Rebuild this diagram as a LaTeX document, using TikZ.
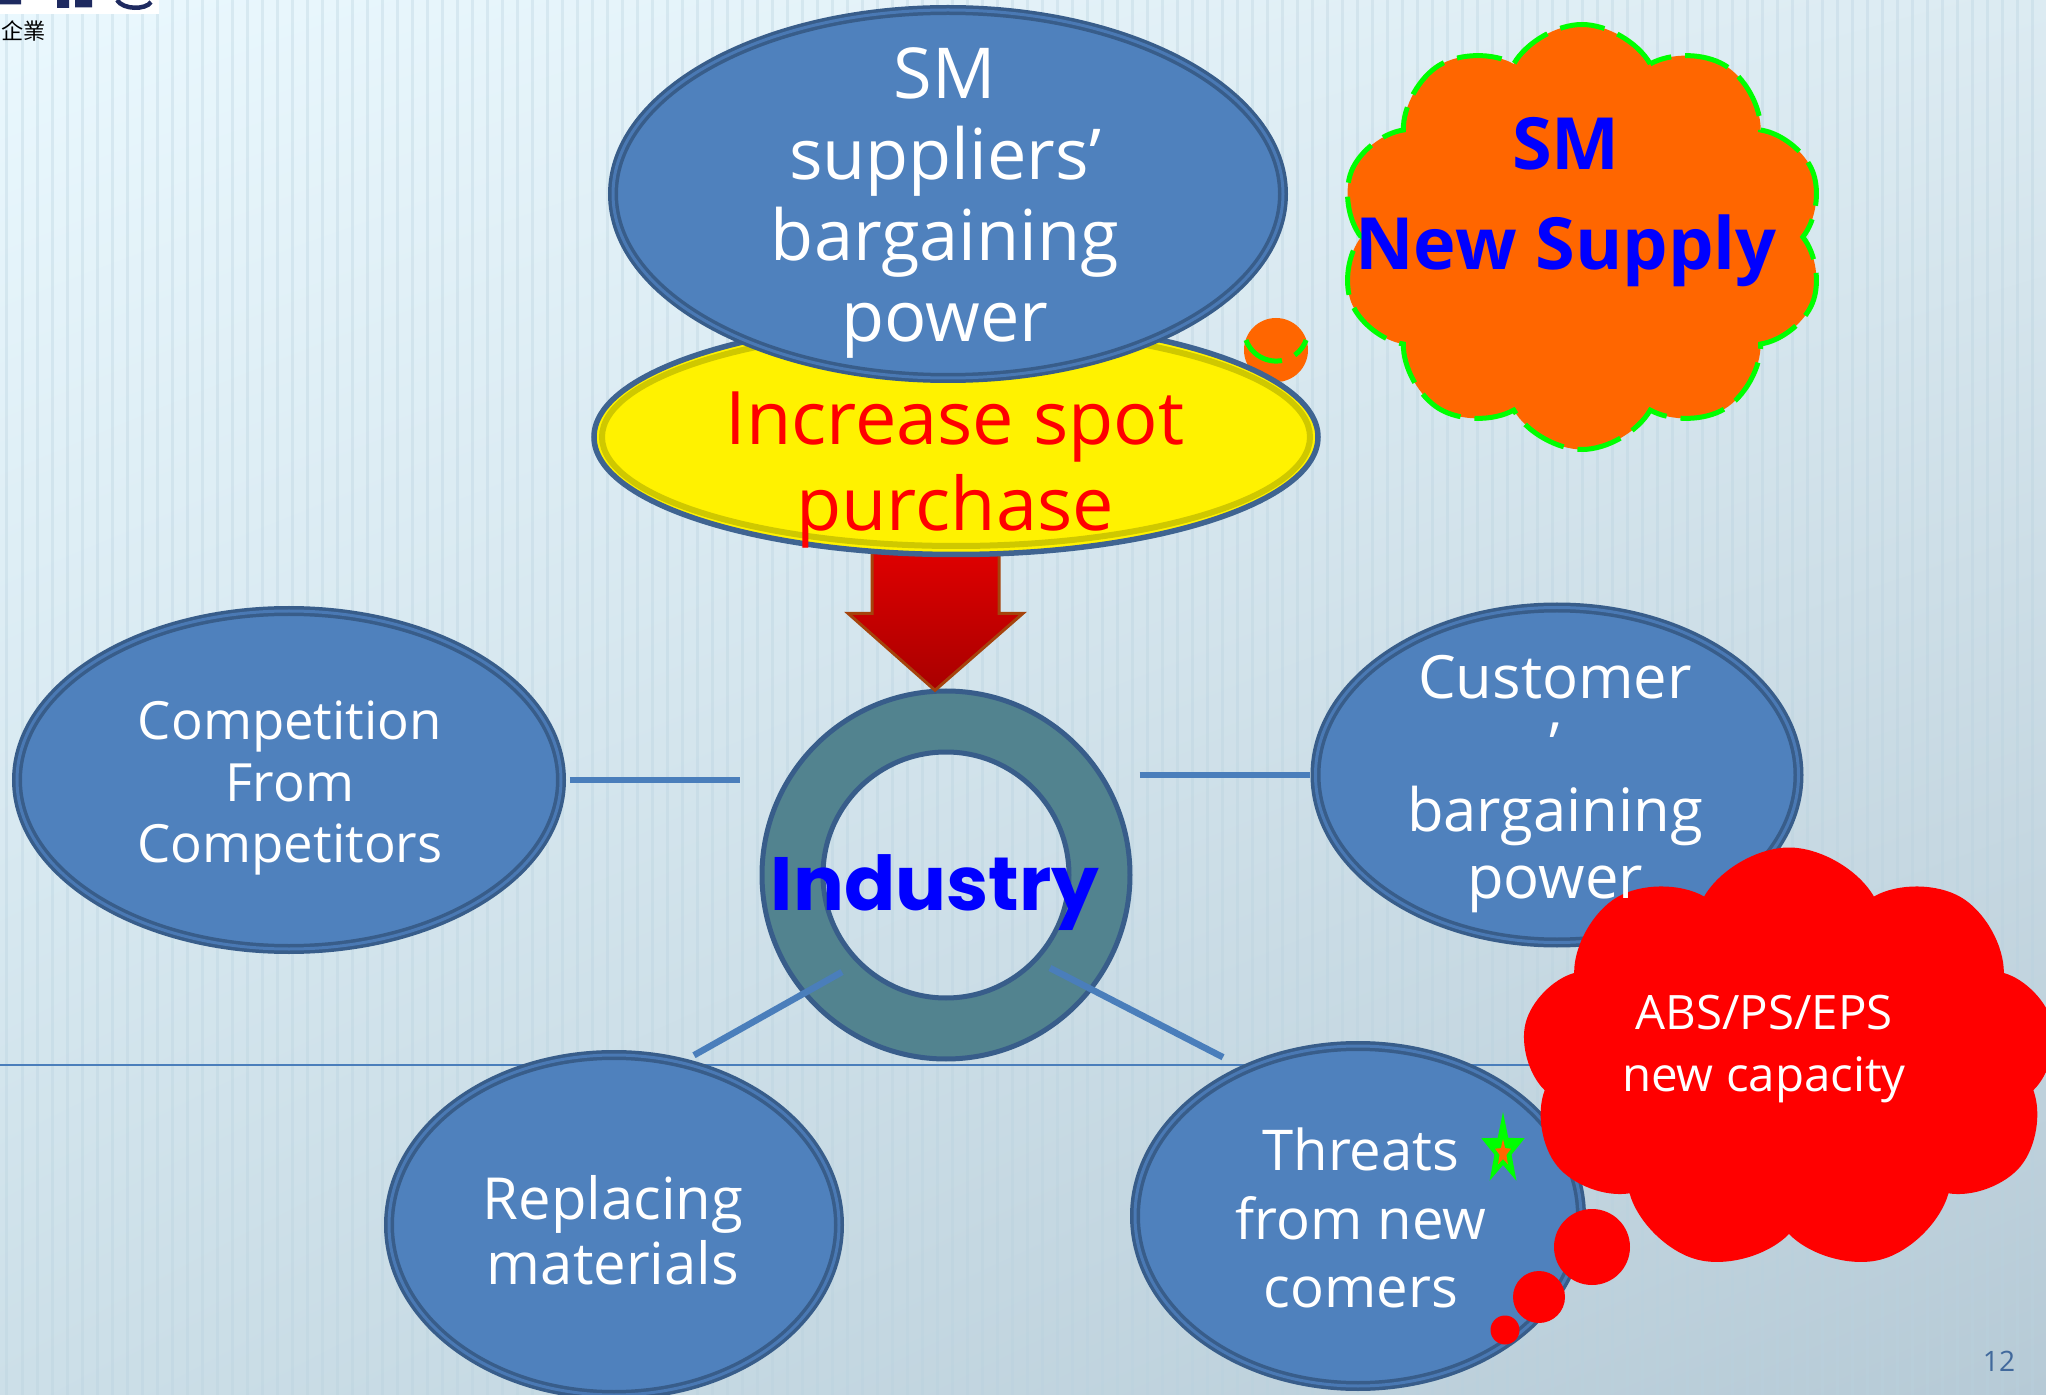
\documentclass[tikz,border=0pt]{standalone}
\usepackage{fontspec}
\setmainfont{Open Sans}
\newfontfamily\indfont{Poppins}
\newfontfamily\cjkfont{Noto Sans CJK TC}
\usetikzlibrary{shapes.geometric,shapes.symbols,shadings,calc}

\definecolor{skyA}{HTML}{EAF8FE}
\definecolor{skyB}{HTML}{DCEBF2}
\definecolor{skyC}{HTML}{CCDFE8}
\definecolor{skyD}{HTML}{B6CAD6}
\definecolor{bubble}{HTML}{4F81BD}
\definecolor{rim}{HTML}{385D8A}
\definecolor{rimlight}{HTML}{4A79B4}
\definecolor{linkblue}{HTML}{4A7EBB}
\definecolor{ringfill}{HTML}{52838F}
\definecolor{spotrim}{HTML}{3F6491}
\definecolor{spotinner}{HTML}{CFC800}
\definecolor{cloudorange}{HTML}{FF6600}
\definecolor{dashgreen}{HTML}{00FF00}
\definecolor{alarm}{HTML}{FF0000}
\definecolor{inkblue}{HTML}{0000FF}
\definecolor{arrowtop}{HTML}{E60000}
\definecolor{arrowbot}{HTML}{A80000}
\definecolor{arrowrim}{HTML}{A5430C}
\definecolor{logoink}{HTML}{1E2A60}
\definecolor{pagenum}{HTML}{41699C}
\definecolor{stripeink}{HTML}{B9D2DF}

\tikzset{
  force/.style={ellipse, inner sep=0pt, fill=bubble, draw=rim, line width=0.35mm,
    double=rimlight, double distance=0.3mm},
  forcetext/.style={text=white, align=center, inner sep=0pt},
  link/.style={linkblue, line width=0.65mm},
  fatarrow/.style={top color=arrowtop, bottom color=arrowbot, draw=arrowrim,
    line width=0.3mm, line join=miter},
  greendash/.style={draw=dashgreen, line width=0.5mm, dash pattern=on 4.5mm off 1.4mm},
  stripe/.style={stripeink, opacity=0.35, line width=0.3mm}
}

\begin{document}
\begin{tikzpicture}[x=1mm, y=-1mm]
  \useasboundingbox (0,0) rectangle (204.6,139.5);
  \clip (0,0) rectangle (204.6,139.5);

  % backdrop
  \shade[upper left=skyA, upper right=skyB, lower left=skyC, lower right=skyD]
    (0,0) rectangle (204.6,139.5);
  \foreach \x in {0.7,2.2,...,204.6}
    \draw[stripe] (\x,0) -- (\x,139.5);
  \draw[linkblue, line width=0.2mm] (0,106.5) -- (204.6,106.5);

  % corner logo
  \fill[white] (0,0) rectangle (15.9,1.4);
  \fill[logoink] (0,0) rectangle (2.1,0.45) (5.7,0) rectangle (6.9,0.8)
    (7.5,0) rectangle (9.2,0.75);
  \draw[logoink, line width=0.45mm] (11.7,0) .. controls (12.3,1.0) and (14.6,1.0) .. (15.1,0.2);
  \node[anchor=north west, inner sep=0pt, font=\cjkfont\fontsize{6.3pt}{7pt}\selectfont]
    (corp) at (0.1,2.0) {企業};

  % ring in the middle
  \node[circle, minimum size=36.8mm, inner sep=0pt] (ring) at (94.6,87.5) {};
  \draw[rim, line width=0.5mm, fill=ringfill, even odd rule]
    (ring.center) circle[radius=18.4] (ring.center) circle[radius=12.3];

  % arrow into the ring
  \coordinate (tip) at ($(ring.north)+(-1.1,0)$);
  \draw[fatarrow] (tip) -- ++(-8.7,-7.7) -- ++(2.4,0) -- ++(0,-8) -- ++(12.7,0)
    -- ++(0,8) -- ++(2.4,0) -- cycle;

  % small puff behind the spot ellipse
  \fill[cloudorange] (127.6,35.0) circle[radius=3.2];
  \draw[greendash] (124.6,34.0) arc[start angle=160, end angle=20, radius=3.2];

  \node[ellipse, minimum width=72.4mm, minimum height=23.5mm, fill=yellow,
    draw=spotrim, line width=0.55mm] (spot) at (95.6,43.7) {};
  \draw[spotinner, line width=0.6mm] (spot.center) ellipse[x radius=35.4, y radius=10.9];

  \node[force, minimum width=67mm, minimum height=36.8mm] (supp) at (94.8,19.4) {};

  % supply cloud
  \node[cloud, cloud puffs=10, cloud puff arc=120, cloud ignores aspect,
    minimum width=48.5mm, minimum height=42.5mm, fill=cloudorange, greendash]
    (supply) at (158.2,23.7) {};

  % the four outer forces
  \node[force, minimum width=54.4mm, minimum height=33.8mm] (comp) at (28.9,78.0) {};
  \node[force, minimum width=48.3mm, minimum height=33.5mm] (cust) at (155.7,77.5) {};
  \node[force, minimum width=45mm, minimum height=34mm] (repl) at (61.4,122.5) {};
  \node[force, minimum width=44.6mm, minimum height=34mm] (threat) at (135.8,121.6) {};

  \coordinate (ll-a) at ($(ring.center)+(-10.4,9.7)$);
  \coordinate (ll-b) at ($(repl.north)+(8.0,0.2)$);
  \coordinate (lr-a) at ($(ring.center)+(10.4,9.3)$);
  \coordinate (lr-b) at ($(threat.north)+(-13.5,1.3)$);
  \begin{scope}[link]
    \draw[shorten <=0.7mm, shorten >=2.1mm] (comp.east) -- (comp.east -| ring.west);
    \draw[shorten <=0.9mm, shorten >=0.4mm] (ring.east |- cust.west) -- (cust.west);
    \draw (ll-a) -- (ll-b);
    \draw (lr-a) -- (lr-b);
  \end{scope}

  % new capacity cloud
  \node[cloud, cloud puffs=9, cloud puff arc=120, cloud ignores aspect,
    minimum width=53.5mm, minimum height=42.5mm, fill=alarm] (cap) at (178.9,106.0) {};
  \foreach \cx/\cy/\r in {159.2/124.7/3.8, 153.9/129.7/2.6, 150.5/133.0/1.45}
    \fill[alarm] (\cx,\cy) circle[radius=\r];

  % star beside the threats
  \begin{scope}[shift={(150.3,115.0)}, xscale=0.6]
    \fill[dashgreen] (-90:3.8) \foreach \k in {0,...,4} { -- ({-54+72*\k}:1.5) -- ({-18+72*\k}:3.8) } -- cycle;
    \fill[cloudorange, shift={(0,0.3)}] (-90:1.4) \foreach \k in {0,...,4} { -- ({-54+72*\k}:0.6) -- ({-18+72*\k}:1.4) } -- cycle;
  \end{scope}

  % texts
  \node[forcetext, font=\fontsize{20pt}{23pt}\selectfont] (supp-t) at (94.5,20.3)
    {SM\\suppliers’\\bargaining\\power};
  \node[text=alarm, align=center, inner sep=0pt, font=\fontsize{21pt}{24.2pt}\selectfont]
    (spot-t) at (95.5,47.0) {Increase spot\\purchase};
  \node[text=inkblue, align=center, inner sep=0pt, font=\bfseries\fontsize{20.5pt}{28.5pt}\selectfont]
    (supply-t) at (156.6,20.2) {SM\\New Supply};
  \node[forcetext, font=\fontsize{15pt}{17.4pt}\selectfont] (comp-t) at (29.0,78.8)
    {Competition\\From\\Competitors};
  \node[forcetext, font=\fontsize{17pt}{19pt}\selectfont] (cust-t) at (155.5,78.4)
    {Customer\\’\\bargaining\\power};
  \node[forcetext, font=\fontsize{16.5pt}{18.5pt}\selectfont] (repl-t) at (61.3,123.0)
    {Replacing\\materials};
  \node[forcetext, font=\fontsize{16pt}{19.5pt}\selectfont] (threat-t) at (136.1,121.8)
    {Threats\\from new\\comers};
  \node[forcetext, font=\fontsize{13.5pt}{17.8pt}\selectfont] (cap-t) at (176.4,104.9)
    {ABS/PS/EPS\\new capacity};
  \node[text=inkblue, anchor=base, inner sep=0pt, font=\indfont\bfseries\fontsize{21.5pt}{25pt}\selectfont]
    (ind-t) at (93.5,91.0) {Industry};
  \node[text=pagenum, inner sep=0pt, font=\fontsize{8pt}{9pt}\selectfont] (page) at (199.9,136.1) {12};
\end{tikzpicture}
\end{document}
